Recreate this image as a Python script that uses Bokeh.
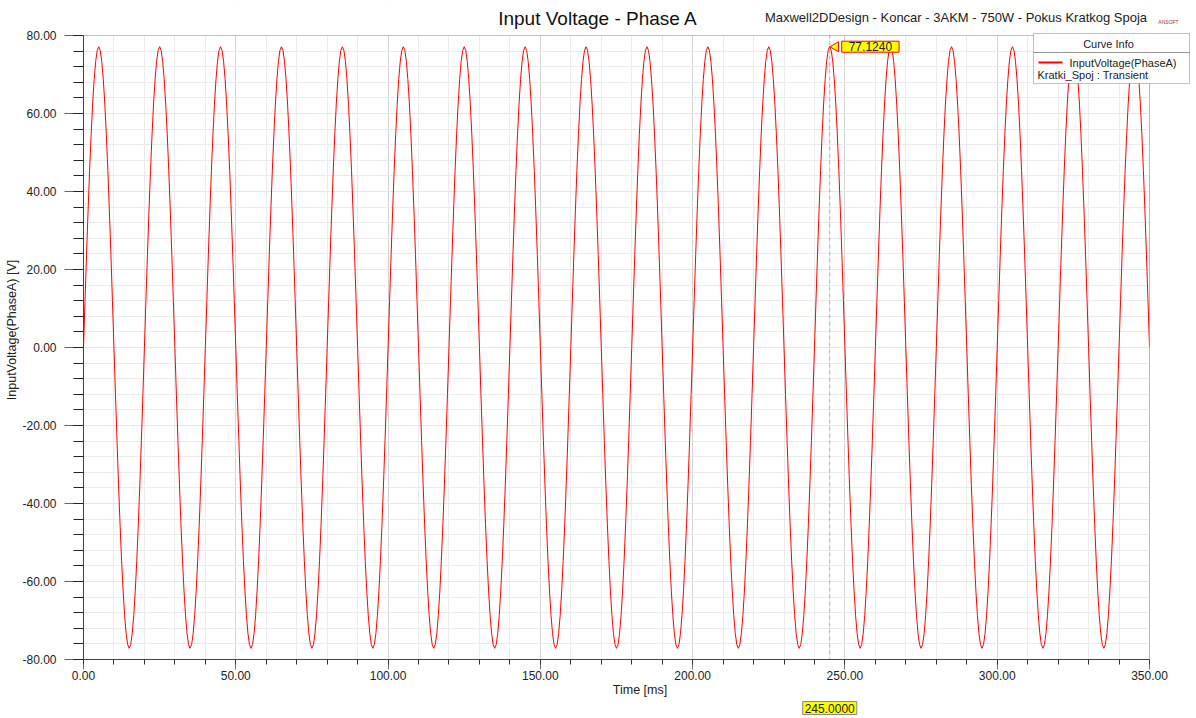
import math
from bokeh.plotting import figure
from bokeh.models import (Label, BoxAnnotation, SingleIntervalTicker, Range1d,
                          NumeralTickFormatter, Title)
from bokeh.embed import file_html
from bokeh.resources import INLINE

# ---------------- texts ----------------
title_text = "Input Voltage - Phase A"
subtitle_text = "Maxwell2DDesign - Koncar - 3AKM - 750W - Pokus Kratkog Spoja"
x_label = "Time [ms]"
y_label = "InputVoltage(PhaseA) [V]"
legend_title = "Curve Info"
series_name = "InputVoltage(PhaseA)"
series_source = "Kratki_Spoj : Transient"

# ---------------- data ----------------
time_step_ms = 0.5
# one 20 ms cycle of the trace, sampled every 0.5 ms (peak 77.1240 V)
cycle_volts = [0.0, 12.07, 23.83, 35.01, 45.33, 54.54, 62.40, 68.72, 73.35, 76.18,
               77.124, 76.18, 73.35, 68.72, 62.40, 54.54, 45.33, 35.01, 23.83, 12.07,
               0.0, -12.07, -23.83, -35.01, -45.33, -54.54, -62.40, -68.72, -73.35, -76.18,
               -77.124, -76.18, -73.35, -68.72, -62.40, -54.54, -45.33, -35.01, -23.83, -12.07]
full_cycles = 17
volts = cycle_volts * full_cycles + cycle_volts[:21]
times = [i * time_step_ms for i in range(len(volts))]

marker_time = 245.0
marker_value = 77.1240
marker_time_text = "245.0000"
marker_value_text = "77.1240"

x_start, x_end, x_tick_step = 0, 350, 50
y_start, y_end, y_tick_step = -80, 80, 20

FONT = "Liberation Sans"
TXT = "#222222"

# ---------------- layout ----------------
W, H = 1196, 718
LEFT, BOTTOM = 83, 59
PLOT_W, PLOT_H = 1066, 624           # size of the 0..350 x -80..80 region
FRAME_W, FRAME_H = W - LEFT, H - BOTTOM
x_view_end = x_start + (x_end - x_start) * FRAME_W / PLOT_W
y_view_end = y_start + (y_end - y_start) * FRAME_H / PLOT_H
px_per_ms = PLOT_W / (x_end - x_start)

p = figure(width=W, height=H, output_backend="svg", toolbar_location=None,
           x_range=Range1d(x_start, x_view_end), y_range=Range1d(y_start, y_view_end),
           min_border_left=LEFT, min_border_right=0, min_border_top=0,
           min_border_bottom=BOTTOM)
p.background_fill_color = "white"
p.border_fill_color = "white"
p.outline_line_color = None

# axes
p.xaxis.ticker = SingleIntervalTicker(interval=x_tick_step, num_minor_ticks=5)
p.yaxis.ticker = SingleIntervalTicker(interval=y_tick_step, num_minor_ticks=5)
p.xaxis.bounds = (x_start, x_end)
p.yaxis.bounds = (y_start, y_end)
p.xaxis.formatter = NumeralTickFormatter(format="0.00")
p.yaxis.formatter = NumeralTickFormatter(format="0.00")
p.xaxis.axis_label = x_label
p.yaxis.axis_label = y_label
for ax in (p.xaxis, p.yaxis):
    ax.major_label_text_font = FONT
    ax.major_label_text_font_size = "12px"
    ax.major_label_text_color = TXT
    ax.axis_label_text_font = FONT
    ax.axis_label_text_font_size = "12.5px"
    ax.axis_label_text_font_style = "normal"
    ax.axis_label_text_color = TXT
    ax.axis_line_color = "#444444"
    ax.major_tick_in = 0
    ax.minor_tick_in = 0
p.xaxis.major_tick_out = 10
p.xaxis.minor_tick_out = 5
p.xaxis.major_tick_line_color = "#777777"
p.xaxis.minor_tick_line_color = "#333333"
p.xaxis.major_label_standoff = 1
p.xaxis.axis_label_standoff = 0
p.yaxis.major_tick_out = 19
p.yaxis.minor_tick_out = 10
p.yaxis.major_tick_line_color = "#666666"
p.yaxis.minor_tick_line_color = "#222222"
p.yaxis.major_label_standoff = 8
p.yaxis.axis_label_standoff = 0

# marker time tag under the time axis
marker_tag = Title(text=marker_time_text, align="left",
                   offset=(marker_time - x_start) * px_per_ms - 27,
                   standoff=0, text_font=FONT, text_font_size="12px",
                   text_font_style="normal", text_color=TXT,
                   background_fill_color="#ffff00", border_line_color="#888888")
try:
    marker_tag.padding = (2, 2)
except Exception:
    pass
p.add_layout(marker_tag, "below")

# grid
p.xgrid.grid_line_color = "#d4d4d4"
p.xgrid.minor_grid_line_color = "#ebebeb"
p.ygrid.grid_line_color = "#e6e6e6"
p.ygrid.minor_grid_line_color = "#ebebeb"

# curve
p.line(times, volts, line_color="#ff0000", line_width=1)

# pointer of the value tag
p.scatter(x=[marker_time + 6 / px_per_ms], y=[marker_value], marker="triangle", size=10,
          angle=math.pi / 2, fill_color="#ffff00", line_color="#ff0000", line_width=1)

# white covers outside the data region (hide grid overrun)
p.add_layout(BoxAnnotation(bottom=y_end, fill_color="white", fill_alpha=1, line_alpha=0))
p.add_layout(BoxAnnotation(left=x_end, fill_color="white", fill_alpha=1, line_alpha=0))
# plot border
p.add_layout(BoxAnnotation(left=x_start, right=x_end, bottom=y_start, top=y_end,
                           fill_alpha=0, line_color="#444444", line_width=1))

# marker line and value label
p.add_layout(BoxAnnotation(left=marker_time, right=marker_time, top=y_end, bottom=y_start,
                           fill_alpha=0, line_color="#555555", line_dash="4 3", line_width=1))
p.add_layout(Label(x=marker_time, y=marker_value, x_offset=12, text=marker_value_text,
                   text_font=FONT, text_font_size="12px", text_color=TXT,
                   text_align="left", text_baseline="middle",
                   background_fill_color="#ffff00", border_line_color="#ff0000",
                   padding=(7, 1)))

# titles (frame-relative screen coordinates)
p.add_layout(Label(x=514.5, y=641, x_units="screen", y_units="screen", text=title_text,
                   text_font=FONT, text_font_size="19px", text_color="#111111",
                   text_align="center", text_baseline="middle"))
p.add_layout(Label(x=872.5, y=642, x_units="screen", y_units="screen", text=subtitle_text,
                   text_font=FONT, text_font_size="13px", text_color="#222222",
                   text_align="center", text_baseline="middle"))
p.add_layout(Label(x=1085, y=638, x_units="screen", y_units="screen", text="ANSOFT",
                   text_font=FONT, text_font_size="5px", text_color="#993333",
                   text_align="center", text_baseline="middle"))

# curve info box
SCR = dict(left_units="screen", right_units="screen", top_units="screen", bottom_units="screen")
p.add_layout(BoxAnnotation(left=950, right=1106, top=626, bottom=576,
                           fill_color="white", fill_alpha=1, line_color="#333333",
                           line_width=1, **SCR))
p.add_layout(BoxAnnotation(left=950, right=1106, top=607, bottom=607,
                           fill_alpha=0, line_color="#333333", line_width=1, **SCR))
p.add_layout(BoxAnnotation(left=955, right=979, top=598, bottom=596,
                           fill_color="#ff0000", fill_alpha=1, line_alpha=0, **SCR))
p.add_layout(Label(x=1025, y=616, x_units="screen", y_units="screen", text=legend_title,
                   text_font=FONT, text_font_size="11px", text_color=TXT,
                   text_align="center", text_baseline="middle"))
p.add_layout(Label(x=986, y=597, x_units="screen", y_units="screen", text=series_name,
                   text_font=FONT, text_font_size="11px", text_color=TXT,
                   text_align="left", text_baseline="middle"))
p.add_layout(Label(x=954, y=585, x_units="screen", y_units="screen", text=series_source,
                   text_font=FONT, text_font_size="11px", text_color=TXT,
                   text_align="left", text_baseline="middle"))

open("out.html", "w").write(file_html(p, INLINE))
